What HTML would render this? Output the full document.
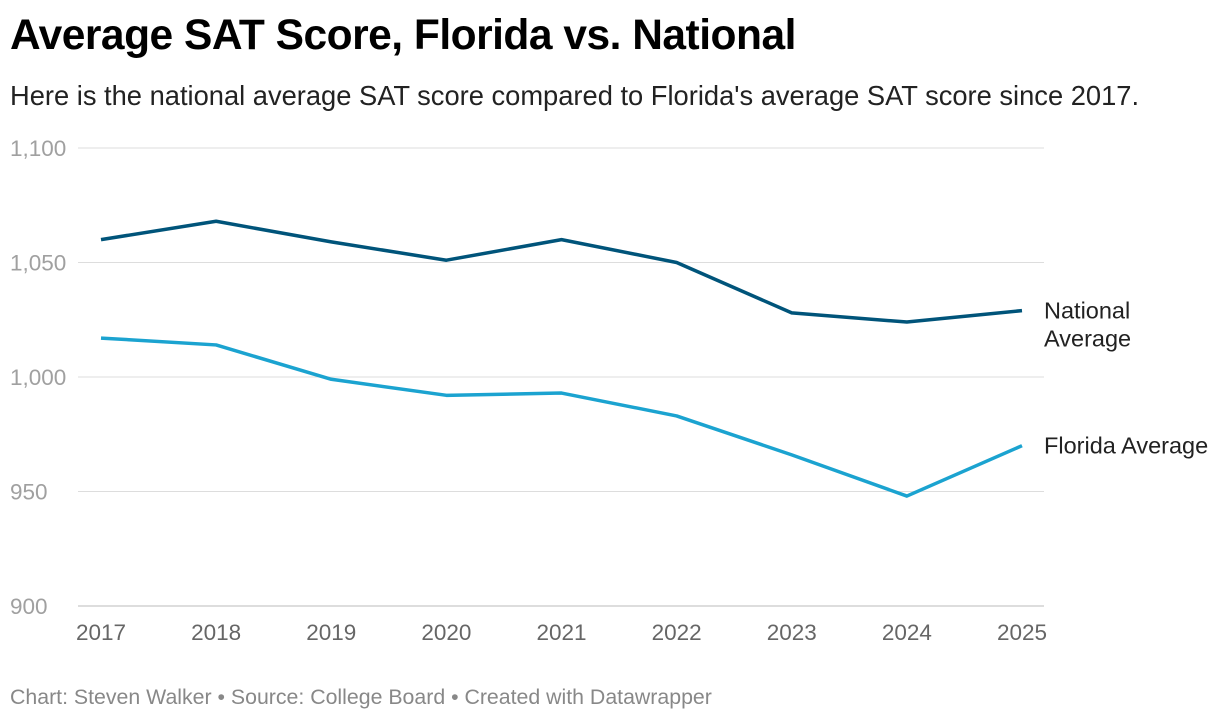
<!DOCTYPE html>
<html><head><meta charset="utf-8"><style>
body{margin:0;background:#fff;width:1220px;height:722px;overflow:hidden;font-family:"Liberation Sans",sans-serif;}
#title{position:absolute;left:10px;top:12px;font-size:42.5px;font-weight:bold;color:#000;letter-spacing:-0.5px;}
#sub{position:absolute;left:10px;top:80px;font-size:27.3px;color:#222;}
#foot{position:absolute;left:10px;top:685px;font-size:21.3px;color:#888;}
svg{position:absolute;left:0;top:0;}
</style></head><body>
<div id="title">Average SAT Score, Florida vs. National</div>
<div id="sub">Here is the national average SAT score compared to Florida's average SAT score since 2017.</div>
<svg id="chart" width="1220" height="722"></svg>
<div id="foot">Chart: Steven Walker • Source: College Board • Created with Datawrapper</div>
<script>
const years=[2017,2018,2019,2020,2021,2022,2023,2024,2025];
const national=[1060,1068,1059,1051,1060,1050,1028,1024,1029];
const florida=[1017,1014,999,992,993,983,966,948,970];
const yTicks=[900,950,1000,1050,1100];
const yTickLabels=["900","950","1,000","1,050","1,100"];
const NS="http://www.w3.org/2000/svg";
const svg=document.getElementById('chart');
const x=y=>101+(y-2017)*(1022-101)/8;
const yS=v=>606-(v-900)*(606-148)/200;
function mk(t,a){const e=document.createElementNS(NS,t);for(const k in a)e.setAttribute(k,a[k]);svg.appendChild(e);return e;}
yTicks.forEach((t,i)=>{
 const l=mk('line',{x1:78,x2:1044,y1:yS(t),y2:yS(t),stroke:t===900?'#bbb':'#ddd','stroke-width':1});
 
 
 const tx=mk('text',{x:10,y:yS(t)+8,'font-size':22.5,fill:'#a0a0a0'});tx.textContent=yTickLabels[i];
 
 
});
years.forEach(yr=>{
 const tx=mk('text',{x:x(yr),y:640,'font-size':22.5,fill:'#666','text-anchor':'middle'});tx.textContent=yr;
 
 
});
function line(vals,color,name){
 const p=mk('polyline',{points:vals.map((v,i)=>x(years[i])+','+yS(v)).join(' '),fill:'none',stroke:color,'stroke-width':3.5,'stroke-linejoin':'round'});
 
 
}
line(national,'#00547a','national-average-line');
line(florida,'#1ba3d0','florida-average-line');
const n=national[national.length-1],f=florida[florida.length-1];
let t1=mk('text',{x:1044,y:yS(n)+8,'font-size':23.5,fill:'#222'});t1.textContent='National';


let t2=mk('text',{x:1044,y:yS(n)+36,'font-size':23.5,fill:'#222'});t2.textContent='Average';


let t3=mk('text',{x:1044,y:yS(f)+8,'font-size':23.5,fill:'#222'});t3.textContent='Florida Average';


</script>
</body></html>
